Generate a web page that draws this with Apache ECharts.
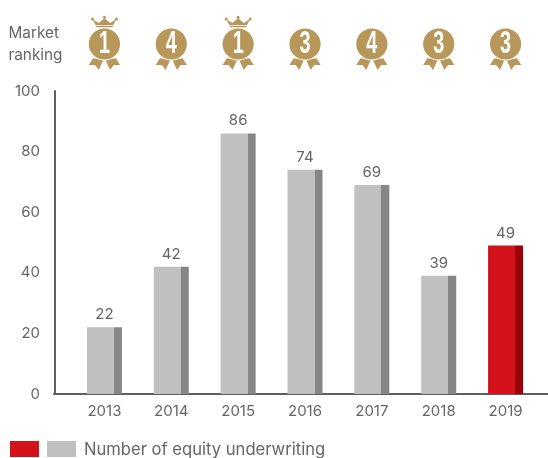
<!DOCTYPE html>
<html><head><meta charset="utf-8">
<style>html,body{margin:0;padding:0;background:#fff}#c{width:548px;height:458px}</style>
<script src="https://cdn.jsdelivr.net/npm/echarts@6/dist/echarts.min.js"></script></head>
<body><div id="c"></div>
<script>
const years = ['2013','2014','2015','2016','2017','2018','2019'];
const underwriting = [22,42,86,74,69,39,49];
const rankings = [1,4,1,3,4,3,3];
const yTicks = {min:0,max:100,interval:20};
const legendLabel = 'Number of equity underwriting';
const rankingLabel = 'Market\nranking';

const FONT = 'Inter, "Open Sans", sans-serif';
const TXT = '#666';
const GOLD = '#B8975A';
const split = 27/35;
const hard = (a,b)=>({type:'linear',x:0,y:0,x2:1,y2:0,colorStops:[
  {offset:0,color:a},{offset:split,color:a},{offset:split,color:b},{offset:1,color:b}]});

function poly(cx,cy,pts,fill){
  return {type:'polygon',shape:{points:pts.map(p=>[cx+p[0]/3,cy+p[1]/3])},style:{fill}};
}
function medal(params,api){
  const i=api.value(0), rank=api.value(1);
  const cx=api.coord([i,0])[0], cy=44;
  const kids=[
    poly(cx,cy,[[-34,43],[-47,63],[-28,63],[-17,78],[-3,47]],GOLD),
    poly(cx,cy,[[34,43],[47,63],[28,63],[17,78],[3,47]],GOLD),
    {type:'circle',shape:{cx,cy,r:16.6},style:{fill:'#fff'}},
    {type:'circle',shape:{cx,cy,r:15.6},style:{fill:GOLD}},
    {type:'text',x:cx,y:cy+0.5,scaleX:0.62,style:{text:String(rank),x:0,y:0,
      align:'center',verticalAlign:'middle',fill:'#fff',font:'bold 32px "Liberation Sans Narrow","Liberation Sans",sans-serif'}}
  ];
  if(rank===1){
    kids.push(poly(cx,cy,[[-24,-50],[24,-50],[26,-54],[-26,-54]],GOLD));
    kids.push(poly(cx,cy,[[-26,-56],[-36,-74],[-17,-63],[0,-77],[17,-63],[36,-74],[26,-56]],GOLD));
    [[-36,-75],[0,-80],[36,-75]].forEach(p=>kids.push({type:'circle',shape:{cx:cx+p[0]/3,cy:cy+p[1]/3,r:1.5},style:{fill:GOLD}}));
  }
  return {type:'group',children:kids};
}

const chart = echarts.init(document.getElementById('c'),null,{renderer:'canvas'});
chart.setOption({
  animation:false,
  textStyle:{fontFamily:FONT},
  grid:[
    {left:71,top:91,width:468,height:303},
    {left:54,top:91,width:494,height:303}
  ],
  xAxis:[
    {type:'category',gridIndex:0,data:years,axisLine:{show:false},axisTick:{show:false},
     axisLabel:{color:TXT,fontSize:15,margin:10,fontFamily:FONT}},
    {type:'category',gridIndex:1,data:[''],axisLine:{lineStyle:{color:'#5f5f5f',width:2}},axisTick:{show:false},axisLabel:{show:false}}
  ],
  yAxis:[
    {type:'value',gridIndex:0,min:yTicks.min,max:yTicks.max,interval:yTicks.interval,offset:16,
     axisLine:{show:true,lineStyle:{color:'#5f5f5f',width:2}},axisTick:{show:false},splitLine:{show:false},
     axisLabel:{color:TXT,fontSize:15,margin:15,padding:[3,0,0,0],fontFamily:FONT}},
    {type:'value',gridIndex:1,min:0,max:100,show:false,splitLine:{show:false}}
  ],
  series:[
    {type:'bar',xAxisIndex:0,yAxisIndex:0,barWidth:35,name:legendLabel,
     data:underwriting.map((v,i)=>({value:v,itemStyle:{color:i===years.length-1?hard('#D3121B','#980208'):hard('#BFC0BF','#868686')}})),
     label:{show:true,position:'top',distance:5,color:TXT,fontSize:15,fontFamily:FONT}},
    {type:'custom',xAxisIndex:0,yAxisIndex:0,clip:false,silent:true,z:5,
     data:rankings.map((r,i)=>[i,r]),renderItem:medal,encode:{x:0}}
  ],
  graphic:[
    {type:'text',left:8.5,top:22,style:{text:rankingLabel,fill:TXT,font:'15.3px '+FONT,lineHeight:22,align:'left'}},
    {type:'rect',shape:{x:10,y:441,width:29,height:16},style:{fill:'#D3121B'}},
    {type:'rect',shape:{x:47,y:441,width:29,height:16},style:{fill:'#BFC0BF'}},
    {type:'text',left:84,top:441,style:{text:legendLabel,fill:TXT,font:'16.6px '+FONT}}
  ]
});
</script></body></html>
